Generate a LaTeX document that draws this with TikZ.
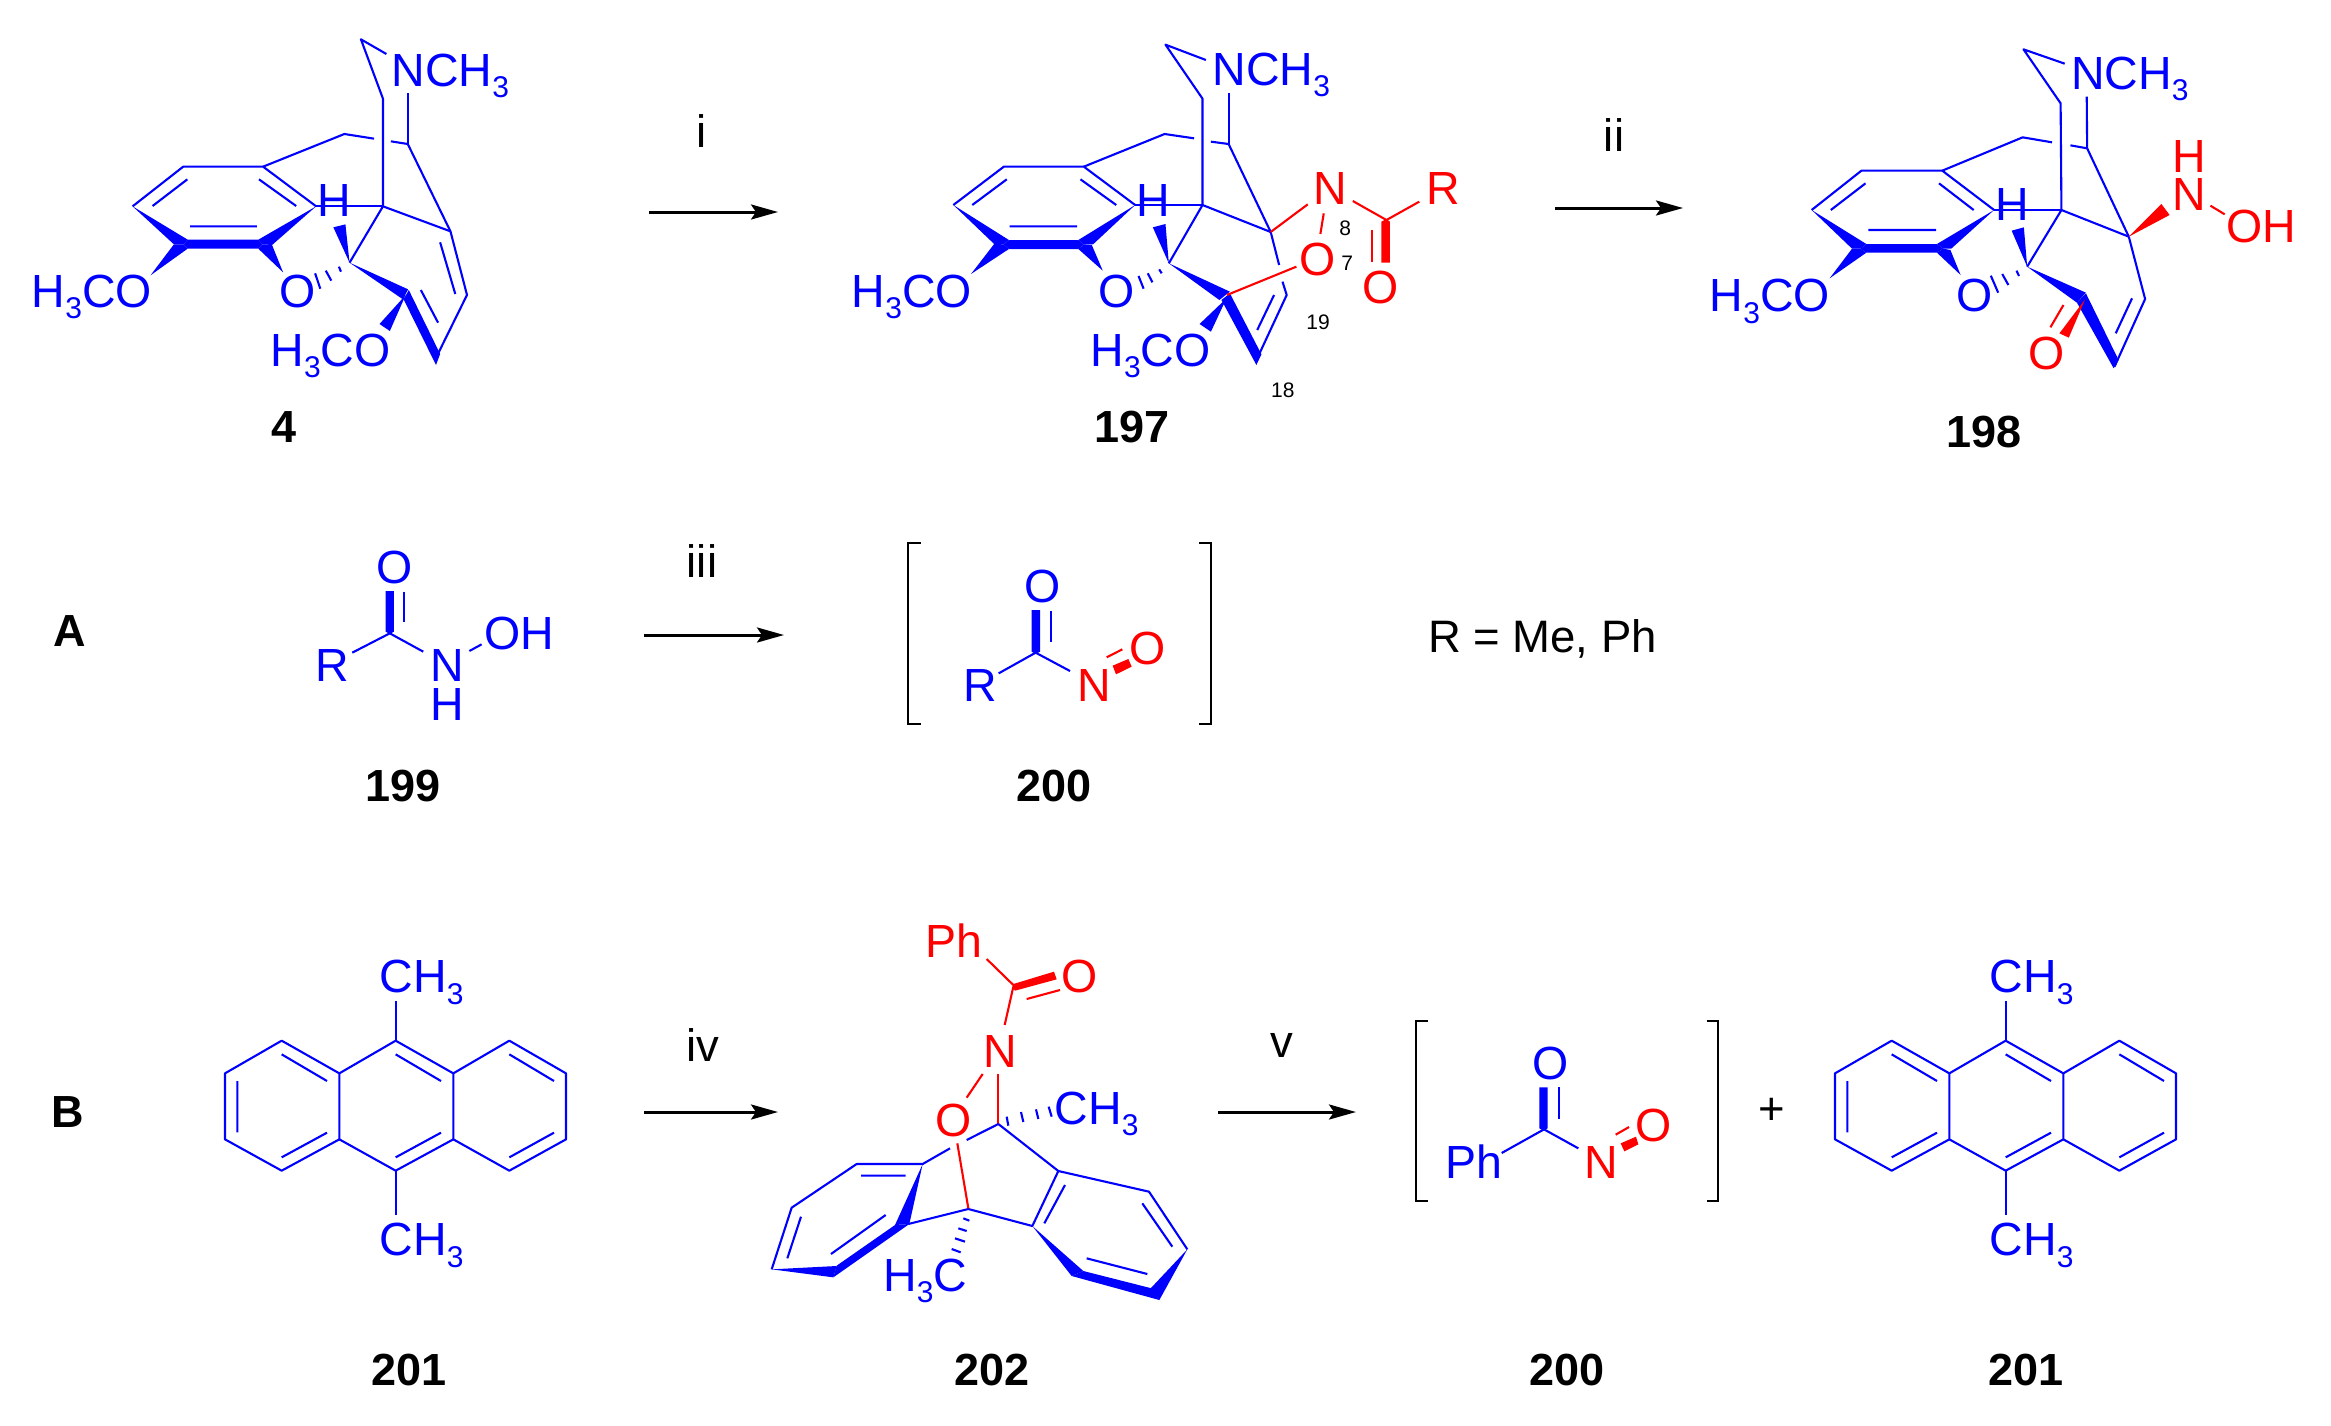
\documentclass[tikz,border=0pt]{standalone}
\usepackage{fontspec}
\setmainfont{Liberation Sans}
\usetikzlibrary{arrows.meta}
\definecolor{mblue}{RGB}{0,0,255}
\definecolor{mred}{RGB}{255,0,0}
\newcounter{labc}
\newcommand{\sbt}{\raisebox{-11.5pt}{\fontsize{30}{30}\selectfont 3}}
% ink-left positioned label: colour, position, text
\newcommand{\lab}[3]{\stepcounter{labc}\node[chemtxt,text=#1,xshift=-2.6pt] (lab\arabic{labc}) at (#2) {#3};}
\newcommand{\cpd}[2]{\stepcounter{labc}\node[cpdtxt] (lab\arabic{labc}) at (#1) {#2};}
\newcommand{\num}[2]{\stepcounter{labc}\node[numtxt] (lab\arabic{labc}) at (#1) {#2};}
\tikzset{
  chemtxt/.style={anchor=base west,inner sep=0pt,outer sep=0pt,font=\fontsize{46.5}{50}\selectfont},
  cpdtxt/.style={anchor=base,inner sep=0pt,outer sep=0pt,font=\fontsize{45}{50}\selectfont\bfseries,text=black},
  numtxt/.style={anchor=base west,inner sep=0pt,outer sep=0pt,font=\fontsize{21}{24}\selectfont,text=black},
  bb/.style={draw=mblue,line width=2.1pt,line join=round},
  rb/.style={draw=mred,line width=2.1pt,line join=round},
  bw/.style={fill=mblue,draw=none},
  rw/.style={fill=mred,draw=none},
  brk/.style={draw=black,line width=2.2pt,line join=miter},
  rxn/.style={draw=black,line width=3pt,-{Stealth[length=27pt,width=15pt,inset=5pt]}},
  rxtxt/.style={anchor=base,inner sep=0pt,outer sep=0pt,font=\fontsize{45.5}{50}\selectfont,text=black}
}
\newcommand{\anthracene}{%
  \draw[bb] (135,400)--(305,302)--(478,400)--(478,598)--(305,692)--(135,598)--cycle;
  \draw[bb] (478,400)--(647,302)--(820,400)--(820,598)--(647,692)--(478,598);
  \draw[bb] (820,400)--(988,302)--(1158,400)--(1158,598)--(988,692)--(820,598);
  \draw[bb] (172,423)--(172,577) (305,343)--(441,423) (305,652)--(441,578)
            (647,343)--(783,423) (647,652)--(783,578) (988,343)--(1122,423) (988,652)--(1122,578);
  \draw[bb] (647,302)--(647,182) (647,692)--(647,825);
  \lab{mblue}{607,158}{CH\sbt}
  \lab{mblue}{607,947}{CH\sbt}
}
\begin{document}
\begin{tikzpicture}[x=1pt,y=-1pt]
\fill[white] (0,0) rectangle (2331,1425);
\useasboundingbox (0,0) rectangle (2331,1425);

% ---------- 4 ----------
\begin{scope}[shift={(0,0)},xscale=0.34439,yscale=0.33333]
\draw[bb] (918,619)--(764,500)--(532,500)--(385,619);
\draw[bb] (443,618)--(544,538) (752,538)--(860,618) (552,679)--(746,679);
\fill[bw] (385,619)--(545,719)--(533,733)--(505,733)--cycle;
\fill[bw] (545,719)--(750,719)--(762,733)--(750,746)--(545,746)--(533,733)--cycle;
\fill[bw] (918,619)--(750,719)--(762,733)--(790,735)--cycle;
\fill[bw] (437,826)--(505,733)--(533,733)--(545,746)--cycle;
\fill[bw] (822,817)--(750,746)--(762,733)--(790,735)--cycle;
\draw[bb] (918,619)--(1112,619);
\fill[bw] (1015,788)--(968,682)--(1003,673)--cycle;
\draw[bb] (1112,619)--(1112,296)--(1048,118)--(1122,162);
\draw[bb] (1184,432)--(1184,278);
\draw[bb] (1184,432)--(1135,424) (1086,416)--(1000,402)--(764,500);
\draw[bb] (1184,432)--(1308,694);
\draw[bb] (1112,619)--(1308,694)--(1356,885)--(1270,1065);
\draw[bb] (1278,727)--(1322,882);
\draw[bb] (1112,619)--(1015,788);
\draw[bb] (915,820)--(930,866) (946,812)--(962,842) (984,800)--(990,815);
\fill[bw] (1015,788)--(1185,868)--(1170,898)--cycle;
\fill[bw] (1187,870)--(1278,1062)--(1266,1095)--(1172,898)--cycle;
\draw[bb] (1222,870)--(1272,968);
\fill[bw] (1178,885)--(1102,972)--(1132,993)--cycle;
\lab{mblue}{930,650}{H}
\lab{mblue}{1145,258}{NCH\sbt}
\lab{mblue}{100,922}{H\sbt CO}
\lab{mblue}{818,922}{O}
\lab{mblue}{793,1098}{H\sbt CO}
\cpd{824,1328}{4}
\end{scope}

% ---------- 197 ----------
\begin{scope}[shift={(830,20)},xscale=0.42092,yscale=0.33333]
\draw[bb] (725,555)--(603,440)--(413,440)--(293,555);
\draw[bb] (338,555)--(420,478) (595,478)--(680,555) (427,619)--(587,619);
\fill[bw] (293,555)--(425,660)--(412,673)--(390,672)--cycle;
\fill[bw] (425,660)--(590,660)--(603,673)--(590,687)--(425,687)--(412,673)--cycle;
\fill[bw] (725,555)--(590,660)--(603,673)--(625,673)--cycle;
\fill[bw] (335,762)--(390,672)--(412,673)--(425,687)--cycle;
\fill[bw] (648,752)--(590,687)--(603,673)--(622,675)--cycle;
\draw[bb] (725,555)--(885,555);
\fill[bw] (805,730)--(767,622)--(797,612)--cycle;
\draw[bb] (885,555)--(885,236)--(797,74)--(893,120);
\draw[bb] (947,372)--(947,218);
\draw[bb] (947,372)--(905,365) (865,355)--(795,342)--(603,440);
\draw[bb] (947,372)--(1047,636);
\draw[bb] (885,555)--(1047,636);
\draw[bb] (885,555)--(805,730);
\draw[bb] (733,768)--(745,806) (755,760)--(766,787) (782,748)--(788,760);
\draw[bb] (1047,636)--(1067,735) (1075,785)--(1085,825)--(1015,1015);
\draw[bb] (1055,825)--(1015,930);
\fill[bw] (805,730)--(950,815)--(925,840)--cycle;
\fill[bw] (950,820)--(1025,1003)--(1013,1035)--(930,840)--cycle;
\fill[bw] (942,835)--(878,912)--(905,935)--cycle;
\draw[rb] (943,825)--(1108,740);
\draw[rb] (1047,636)--(1135,553);
\draw[rb] (1173,580)--(1165,642);
\draw[rb] (1242,543)--(1322,600)--(1400,545);
\fill[rw] (1310,605)--(1322,597)--(1330,605)--(1330,728)--(1310,728)--cycle;
\draw[rb] (1287,630)--(1287,725);
\lab{mblue}{735,590}{H}
\lab{mblue}{915,195}{NCH\sbt}
\lab{mblue}{58,862}{H\sbt CO}
\lab{mblue}{645,862}{O}
\lab{mblue}{625,1038}{H\sbt CO}
\lab{mred}{1122,765}{O}
\lab{mred}{1155,553}{N}
\lab{mred}{1423,553}{R}
\lab{mred}{1272,850}{O}
\num{1210,645}{8}
\num{1215,750}{7}
\num{1132,928}{19}
\num{1048,1133}{18}
\cpd{717,1268}{197}
\end{scope}

% ---------- 198 ----------
\begin{scope}[shift={(1690,20)},xscale=0.40816,yscale=0.33333]
\draw[bb] (745,570)--(618,452)--(420,452)--(298,570);
\draw[bb] (345,570)--(430,490) (610,490)--(695,570) (437,630)--(603,630);
\fill[bw] (298,570)--(432,672)--(418,686)--(397,686)--cycle;
\fill[bw] (432,672)--(605,672)--(620,686)--(605,698)--(432,698)--(418,686)--cycle;
\fill[bw] (745,570)--(605,672)--(620,686)--(640,686)--cycle;
\fill[bw] (342,775)--(397,686)--(418,686)--(432,698)--cycle;
\fill[bw] (663,765)--(605,698)--(620,686)--(638,690)--cycle;
\draw[bb] (745,570)--(910,570);
\fill[bw] (826,740)--(788,632)--(818,622)--cycle;
\draw[bb] (910,570)--(908,250)--(817,88)--(918,131);
\draw[bb] (973,385)--(972,230);
\draw[bb] (973,385)--(932,376) (887,367)--(815,352)--(618,452);
\draw[bb] (973,385)--(1075,650);
\draw[bb] (910,570)--(1075,650);
\draw[bb] (910,570)--(826,740);
\draw[bb] (737,767)--(755,818) (765,762)--(780,795) (800,752)--(806,768);
\draw[bb] (1075,650)--(1115,837)--(1040,1040);
\draw[bb] (1083,835)--(1043,940);
\fill[bw] (826,740)--(970,818)--(948,848)--cycle;
\fill[bw] (970,820)--(1050,1020)--(1038,1045)--(948,848)--cycle;
\fill[rw] (968,838)--(905,940)--(928,953)--cycle;
\draw[rb] (915,855)--(883,922);
\fill[rw] (1075,650)--(1155,552)--(1175,585)--cycle;
\draw[rb] (1275,557)--(1310,583);
\lab{mblue}{755,600}{H}
\lab{mblue}{940,208}{NCH\sbt}
\lab{mblue}{55,875}{H\sbt CO}
\lab{mblue}{660,875}{O}
\lab{mred}{835,1048}{O}
\lab{mred}{1188,458}{H}
\lab{mred}{1188,572}{N}
\lab{mred}{1320,668}{OH}
\cpd{720,1282}{198}
\end{scope}

% ---------- A, 199 ----------
\begin{scope}[shift={(0,520)},xscale=0.40816,yscale=0.33333]
\draw[bb] (863,398)--(955,340)--(1037,395);
\draw[bb] (1150,393)--(1180,373);
\fill[bw] (945,213)--(965,213)--(965,335)--(955,342)--(945,335)--cycle;
\draw[bb] (989,215)--(989,307);
\lab{mblue}{780,483}{R}
\lab{mblue}{1062,483}{N}
\lab{mblue}{1062,600}{H}
\lab{mblue}{1193,388}{OH}
\lab{mblue}{928,190}{O}
\cpd{170,378}{A}
\cpd{987,843}{199}
\end{scope}

% ---------- 200 (R) ----------
\begin{scope}[shift={(880,520)},xscale=0.33333,yscale=0.33333]
\draw[brk] (122,70)--(85,70)--(85,613)--(122,613);
\draw[brk] (957,70)--(992,70)--(992,613)--(957,613);
\draw[bb] (356,460)--(467,398)--(570,453);
\fill[bw] (455,270)--(480,270)--(480,395)--(467,402)--(455,395)--cycle;
\draw[bb] (513,272)--(513,365);
\fill[rw] (698,437)--(745,417)--(755,440)--(708,463)--cycle;
\draw[rb] (680,412)--(727,388);
\lab{mblue}{258,545}{R}
\lab{mblue}{441,248}{O}
\lab{mred}{600,545}{N}
\lab{mred}{755,432}{O}
\cpd{522,843}{200}
\end{scope}

% ---------- 201 left ----------
\begin{scope}[shift={(180,940)},xscale=0.33333,yscale=0.33333]
\anthracene
\end{scope}

% ---------- 202 ----------
\begin{scope}[shift={(700,910)},xscale=0.33333,yscale=0.33333]
\draw[rb] (860,147)--(940,225);
\fill[rw] (940,222)--(1062,185)--(1070,208)--(945,242)--(937,232)--cycle;
\draw[rb] (980,267)--(1080,240);
\draw[rb] (940,230)--(914,345);
\draw[rb] (848,492)--(800,563);
\draw[rb] (895,492)--(895,642);
\draw[bb] (920,620)--(925,647) (963,606)--(970,636) (1008,598)--(1015,627) (1046,590)--(1055,620);
\draw[bb] (895,642)--(800,690) (750,715)--(668,762)--(470,762)--(275,893)--(215,1078);
\draw[bb] (483,797)--(617,797) (303,920)--(262,1045) (557,915)--(393,1032);
\fill[bw] (668,762)--(585,945)--(628,942)--cycle;
\draw[bb] (625,942)--(805,897)--(997,948)--(1075,783)--(1347,845)--(1462,1018);
\draw[bb] (1095,825)--(1033,940) (1327,880)--(1417,1010) (895,642)--(1075,783);
\draw[rb] (772,700)--(805,895);
\draw[bb] (790,925)--(808,932) (775,955)--(800,963) (765,985)--(795,995) (755,1017)--(782,1027);
\fill[bw] (215,1078)--(410,1068)--(400,1102)--cycle;
\fill[bw] (585,945)--(628,942)--(400,1102)--(410,1067)--cycle;
\fill[bw] (997,948)--(1150,1083)--(1115,1098)--cycle;
\fill[bw] (1150,1083)--(1355,1135)--(1378,1170)--(1115,1098)--cycle;
\fill[bw] (1462,1018)--(1352,1135)--(1378,1170)--cycle;
\draw[bb] (1160,1045)--(1342,1092);
\lab{mred}{683,143}{Ph}
\lab{mred}{1092,247}{O}
\lab{mred}{857,472}{N}
\lab{mred}{715,680}{O}
\lab{mblue}{1072,643}{CH\sbt}
\lab{mblue}{558,1143}{H\sbt C}
\end{scope}

% ---------- 200 (Ph) ----------
\begin{scope}[shift={(1380,980)},xscale=0.33333,yscale=0.33333]
\draw[brk] (143,124)--(108,124)--(108,664)--(143,664);
\draw[brk] (980,124)--(1015,124)--(1015,664)--(980,664);
\draw[bb] (365,519)--(492,448)--(595,505);
\fill[bw] (478,322)--(503,322)--(503,445)--(490,452)--(478,445)--cycle;
\draw[bb] (537,322)--(537,417);
\fill[rw] (722,490)--(768,470)--(775,493)--(733,514)--cycle;
\draw[rb] (707,464)--(747,441);
\lab{mblue}{203,595}{Ph}
\lab{mblue}{465,298}{O}
\lab{mred}{622,595}{N}
\lab{mred}{775,483}{O}
\node[anchor=center,inner sep=0pt,font=\fontsize{45.5}{50}\selectfont,text=black] (plus) at (1176,393) {+};
\end{scope}

% ---------- 201 right ----------
\begin{scope}[shift={(1790,940)},xscale=0.33333,yscale=0.33333]
\anthracene
\end{scope}

% ---------- labels ----------
\cpd{68,1127}{B}
\cpd{409,1385}{201}
\cpd{992,1385}{202}
\cpd{1567,1385}{200}
\cpd{2026,1385}{201}
\node[rxtxt,anchor=base west] (rme) at (1428,652) {R = Me, Ph};

% ---------- reaction arrows ----------
\coordinate (a1s) at (649,212); \coordinate (a1e) at (778,212);
\coordinate (a2s) at (1555,208); \coordinate (a2e) at (1683,208);
\coordinate (a3s) at (644,635); \coordinate (a3e) at (784,635);
\coordinate (a4s) at (644,1112); \coordinate (a4e) at (778,1112);
\coordinate (a5s) at (1218,1112); \coordinate (a5e) at (1356,1112);
\draw[rxn] (a1s)--(a1e);
\draw[rxn] (a2s)--(a2e);
\draw[rxn] (a3s)--(a3e);
\draw[rxn] (a4s)--(a4e);
\draw[rxn] (a5s)--(a5e);
\node[rxtxt] (ri) at (702,147) {i};
\node[rxtxt] (rii) at (1614,151) {ii};
\node[rxtxt] (riii) at (702,577) {iii};
\node[rxtxt] (riv) at (703,1061) {iv};
\node[rxtxt] (rv) at (1282,1057) {v};
\end{tikzpicture}
\end{document}
